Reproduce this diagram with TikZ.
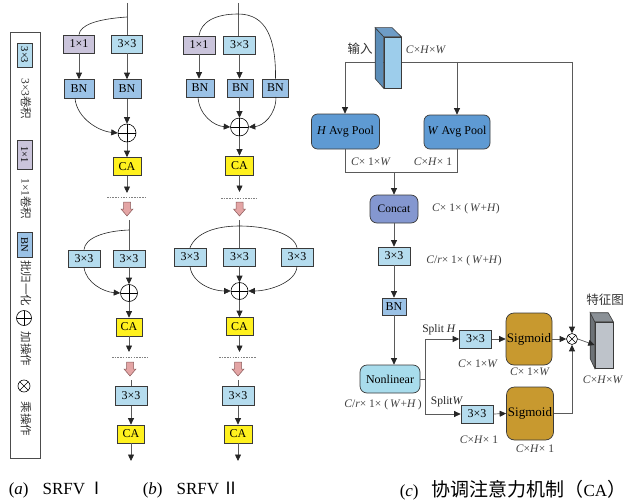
\documentclass[tikz,border=0pt]{standalone}
\usepackage{fontspec}
\setmainfont{Liberation Serif}
\newfontfamily\cjk{Noto Sans CJK SC}
\usetikzlibrary{arrows.meta,calc}
\definecolor{cthree}{HTML}{B5DCEE}
\definecolor{cone}{HTML}{CAC4DB}
\definecolor{cbn}{HTML}{9BC2E6}
\definecolor{cca}{HTML}{FFF11E}
\definecolor{pinkc}{HTML}{E4A5A5}
\definecolor{pinkd}{HTML}{8A5A5A}
\definecolor{cpool}{HTML}{5E9AD3}
\definecolor{cconcat}{HTML}{8497D0}
\definecolor{cnonl}{HTML}{A8DCEC}
\definecolor{csig}{HTML}{C8992F}
\definecolor{boxdraw}{HTML}{3A3A3A}
\definecolor{linegray}{HTML}{5A5A5A}
\definecolor{inF}{HTML}{9DCDEB}
\definecolor{inS}{HTML}{5B8DB8}
\definecolor{inT}{HTML}{6E9CC6}
\definecolor{outF}{HTML}{BEC3CA}
\definecolor{outS}{HTML}{6D7277}
\definecolor{outT}{HTML}{8A9096}
\newcommand\pinkarr[2]{\filldraw[fill=pinkc, draw=pinkd, line width=0.5pt] (#1-3.5,#2) -- ++(7,0) -- ++(0,7) -- ++(2.5,0) -- (#1,#2+14) -- ++(-6,-7) -- ++(2.5,0) -- cycle;}
\begin{document}
\begin{tikzpicture}[x=1pt,y=-1pt,
  bx/.style={draw=boxdraw, line width=0.7pt, inner sep=0pt, font=\fontsize{12}{14}\selectfont},
  sthree/.style={bx, fill=cthree},
  sone/.style={bx, fill=cone},
  sbn/.style={bx, fill=cbn},
  sca/.style={bx, fill=cca},
  rbx/.style={bx, rounded corners=6pt, font=\fontsize{12}{14}\selectfont},
  sz/.style 2 args={minimum width=#1pt, minimum height=#2pt},
  tip/.style={-{Triangle[length=6.5pt,width=6pt,color=black!85]}},
  arr/.style={tip, line width=0.7pt, draw=linegray},
  ln/.style={line width=0.7pt, draw=linegray},
  arcl/.style={line width=0.6pt, draw=black!85},
  arca/.style={arcl, tip},
  dots/.style={line width=0.6pt, draw=gray, dash pattern=on 1.5pt off 1.2pt},
  lbl/.style={font=\cjk\fontsize{12.5}{14}\selectfont, inner sep=0pt, text=black!80},
  leg/.style={font=\cjk\fontsize{11.5}{13}\selectfont, inner sep=0pt, text=black!80, rotate=-90},
  dim/.style={font=\fontsize{11.5}{13}\selectfont, inner sep=0pt, text=black!75},
  oplus/.style={circle, draw=black, line width=0.6pt, fill=white, minimum size=#1pt, inner sep=0pt,
    path picture={\draw[line width=0.6pt] (path picture bounding box.north) -- (path picture bounding box.south)
      (path picture bounding box.west) -- (path picture bounding box.east);}},
  otimes/.style={circle, draw=black, line width=0.6pt, fill=white, minimum size=#1pt, inner sep=0pt,
    path picture={\draw[line width=0.6pt] (path picture bounding box.north west) -- (path picture bounding box.south east)
      (path picture bounding box.south west) -- (path picture bounding box.north east);}},
]
\useasboundingbox (0,0) rectangle (626,503);

% ---------------- legend ----------------
\draw[line width=0.7pt, draw=black!70] (10,32) rectangle (40,458);
\node[sthree, sz={24}{15}, rotate=-90, font=\fontsize{10.5}{12}\selectfont] (l33) at (24.5,55) {3×3};
\node[leg] (t33) at (26,99) {\textrm{3×3}卷积};
\node[sone, sz={29}{15}, rotate=-90, font=\fontsize{10.5}{12}\selectfont] (l11) at (24.5,154.5) {1×1};
\node[leg] (t11) at (26,199) {\textrm{1×1}卷积};
\node[sbn, sz={25}{15}, rotate=-90, font=\fontsize{10.5}{12}\selectfont] (lbn) at (24.5,245) {BN};
\node[leg] (tbn) at (26,283) {批归一化};
\node[oplus=15] (lplus) at (24,318) {};
\node[leg] (tplus) at (26,349) {加操作};
\node[otimes=12] (ltimes) at (24,386) {};
\node[leg] (ttimes) at (26,419) {乘操作};

% ---------------- SRFV I ----------------
\coordinate (atop) at (127,3);
\coordinate (aarc) at (127,17);
\node[sone, sz={31}{18}] (a11) at (79,44) {1×1};
\node[sthree, sz={31}{18}] (a33) at (127,44) {3×3};
\node[sbn, sz={30}{19}] (abn1) at (79,89) {BN};
\node[sbn, sz={28}{19}] (abn2) at (127,89) {BN};
\node[oplus=18] (aplus) at (127,133) {};
\node[sca, sz={28}{18}] (aca) at (127,166.5) {CA};
\coordinate (aend1) at (127,193);
\draw[ln] (atop) -- (a33.north);
\draw[arcl] (aarc) .. controls (97,19) and (80,25) .. (a11.north);
\draw[arr] (a11.south) -- (abn1.north);
\draw[arr] (a33.south) -- (abn2.north);
\draw[arca] (75,98.5) .. controls (77,118) and (98,131) .. (aplus.west);
\draw[arr] (abn2.south) -- (aplus.north);
\draw[arr] (aplus.south) -- (aca.north);
\draw[arr] (aca.south) -- (aend1);
\draw[dots] (107,197) -- (145,197);
\pinkarr{127}{202}
% block 2
\coordinate (atop2) at (129,220);
\coordinate (aarc2) at (129,230);
\node[sthree, sz={32}{17}] (a2l) at (84,258.5) {3×3};
\node[sthree, sz={32}{17}] (a2r) at (129,258.5) {3×3};
\node[oplus=17] (aplus2) at (129,293) {};
\node[sca, sz={26}{18}] (aca2) at (129,327) {CA};
\coordinate (aend2) at (129,352);
\draw[ln] (atop2) -- (a2r.north);
\draw[arcl] (aarc2) .. controls (104,231) and (85,238) .. (a2l.north);
\draw[arca] (a2l.south) .. controls (86,283) and (104,292) .. (aplus2.west);
\draw[arr] (a2r.south) -- (aplus2.north);
\draw[arr] (aplus2.south) -- (aca2.north);
\draw[arr] (aca2.south) -- (aend2);
\draw[dots] (112,357) -- (148,357);
\pinkarr{130}{362}
% block 3
\coordinate (atop3) at (131,380);
\node[sthree, sz={32}{19}] (a3) at (131,396) {3×3};
\node[sca, sz={27}{18}] (aca3) at (131,434) {CA};
\coordinate (aend3) at (131,461);
\draw[ln] (atop3) -- (a3.north);
\draw[arr] (a3.south) -- (aca3.north);
\draw[arr] (aca3.south) -- (aend3);

% ---------------- SRFV II ----------------
\coordinate (btop) at (238,3);
\coordinate (barc) at (238,14);
\node[sone, sz={32}{18}] (b11) at (199,45) {1×1};
\node[sthree, sz={32}{18}] (b33) at (239.5,45) {3×3};
\node[sbn, sz={28}{18}] (bbn1) at (200,88) {BN};
\node[sbn, sz={26}{18}] (bbn2) at (240.5,88) {BN};
\node[sbn, sz={26}{18}] (bbn3) at (275.5,88) {BN};
\node[oplus=18] (bplus) at (239.5,127) {};
\node[sca, sz={28}{19}] (bca) at (239.5,165.5) {CA};
\coordinate (bend1) at (239.5,192);
\draw[ln] (btop) -- (btop |- b33.north);
\draw[arcl] (b11.north) .. controls (201,22) and (215,14) .. (barc) .. controls (266,14) and (276,38) .. (bbn3.north);
\draw[arr] (b11.south) -- (b11.south |- bbn1.north);
\draw[arr] (b33.south) -- (b33.south |- bbn2.north);
\draw[arr] (bbn2.south -| bplus.north) -- (bplus.north);
\draw[arca] (198,97) .. controls (199,115) and (214,126) .. (bplus.west);
\draw[arca] (276,97) .. controls (276,115) and (263,126) .. (bplus.east);
\draw[arr] (bplus.south) -- (bca.north);
\draw[arr] (bca.south) -- (bend1);
\draw[dots] (221,198) -- (257,198);
\pinkarr{239.5}{202}
% block 2
\coordinate (btop2) at (239.5,220);
\coordinate (barc2) at (239.5,226);
\node[sthree, sz={32}{18}] (b2l) at (190,257) {3×3};
\node[sthree, sz={32}{18}] (b2c) at (239.5,257) {3×3};
\node[sthree, sz={32}{18}] (b2r) at (297,257) {3×3};
\node[oplus=17] (bplus2) at (239.5,291) {};
\node[sca, sz={27}{18}] (bca2) at (239.5,326.5) {CA};
\coordinate (bend2) at (239.5,352);
\draw[ln] (btop2) -- (b2c.north);
\draw[arcl] (b2l.north) .. controls (196,233) and (215,226) .. (barc2) .. controls (265,226) and (294,233) .. (b2r.north);
\draw[arca] (b2l.south) .. controls (192,283) and (212,291) .. (bplus2.west);
\draw[arca] (b2r.south) .. controls (296,283) and (268,291) .. (bplus2.east);
\draw[arr] (b2c.south) -- (bplus2.north);
\draw[arr] (bplus2.south) -- (bca2.north);
\draw[arr] (bca2.south) -- (bend2);
\draw[dots] (219,357) -- (256,357);
\pinkarr{238}{362}
% block 3
\coordinate (btop3) at (238,380);
\node[sthree, sz={32}{19}] (b3) at (238,396) {3×3};
\node[sca, sz={28}{18}] (bca3) at (238,434) {CA};
\coordinate (bend3) at (238,461);
\draw[ln] (btop3) -- (b3.north);
\draw[arr] (b3.south) -- (bca3.north);
\draw[arr] (bca3.south) -- (bend3);

% ---------------- CA ----------------
\coordinate (hl) at (345,62);
\coordinate (hr) at (572,62);
\coordinate (hw) at (457,62);
\node[rbx, fill=cpool, sz={68}{35}] (hpool) at (345.5,131.5) {\textit{H} Avg Pool};
\node[rbx, fill=cpool, sz={66}{34}] (wpool) at (457,132) {\textit{W} Avg Pool};
\node[rbx, fill=cconcat, sz={48}{28}, rounded corners=7pt, font=\fontsize{11.5}{13}\selectfont] (concat) at (394,209) {Concat};
\node[sthree, sz={32}{18}] (c33) at (394,256) {3×3};
\node[sbn, sz={24}{17}] (cbn) at (394,306.5) {BN};
\node[rbx, fill=cnonl, sz={60}{28}, rounded corners=7pt] (nonl) at (390,379) {Nonlinear};
\node[sthree, sz={32}{18}] (t33) at (475.5,339) {3×3};
\node[sthree, sz={32}{18}] (u33) at (477,414) {3×3};
\node[rbx, fill=csig, sz={46}{52}, rounded corners=8pt, font=\fontsize{13}{15}\selectfont] (sigt) at (529,339) {Sigmoid};
\node[rbx, fill=csig, sz={47}{53}, rounded corners=8pt, font=\fontsize{13}{15}\selectfont] (sigb) at (530,413.5) {Sigmoid};
\node[otimes=11] (mul) at (572,339) {};
% lines
\draw[ln] (hl) -- (hr);
\draw[arr] (hl) -- (hpool.north -| hl);
\draw[arr] (hw) -- (wpool.north -| hw);
\draw[arr] (hr) -- (mul.north);
% input cuboid
\node[draw=boxdraw, line width=0.6pt, fill=inF, minimum width=17pt, minimum height=51pt, inner sep=0pt] (inc) at (392.5,62.5) {};
\filldraw[fill=inS, draw=boxdraw, line width=0.6pt] (inc.north west) -- ++(-8.5,-9) -- ++(0,51) -- (inc.south west) -- cycle;
\filldraw[fill=inT, draw=boxdraw, line width=0.6pt] (inc.north west) -- ++(-8.5,-9) -- ++(17,0) -- (inc.north east) -- cycle;
\node[lbl] (tin) at (360,49) {输入};
\node[dim] (din) at (426,50) {\textit{C}×\textit{H}×\textit{W}};
% pooling merge
\coordinate (pm) at (394,172);
\draw[ln] (hpool.south -| hl) -- (hl |- pm) -- (hw |- pm) -- (wpool.south -| hw);
\draw[arr] (pm) -- (concat.north);
\node[dim] (dh) at (371,161.5) {\textit{C}× 1×\textit{W}};
\node[dim] (dw) at (433,161.5) {\textit{C}×\textit{H}× 1};
\draw[arr] (concat.south) -- (c33.north);
\node[dim] (dc) at (466,208.5) {\textit{C}× 1× (\,\textit{W}+\textit{H})};
\draw[arr] (c33.south) -- (cbn.north);
\node[dim] (dr) at (464,261) {\textit{C}/\textit{r}× 1× (\,\textit{W}+\textit{H})};
\draw[arr] (cbn.south) -- (cbn.south |- nonl.north);
\node[dim] (dn) at (383,405) {\textit{C}/\textit{r}× 1× (\,\textit{W}+\textit{H}\,)};
% split
\coordinate (sp) at (425,379);
\draw[ln] (nonl.east) -- (sp);
\draw[ln] (sp |- t33.west) -- (sp |- u33.west);
\draw[arr] (sp |- t33.west) -- (t33.west);
\draw[arr] (sp |- u33.west) -- (u33.west);
\node[dim, text=black!85] (lsh) at (439,329.5) {Split \textit{H}};
\node[dim, text=black!85] (lsw) at (447,401.5) {Split\textit{W}};
\draw[arr] (t33.east) -- (sigt.west);
\draw[arr] (u33.east) -- (sigb.west);
\draw[arr] (sigt.east) -- (mul.west);
\draw[arr] (sigb.east) -- (mul |- sigb.east) -- (mul.south);
\node[dim] (dt1) at (478,364) {\textit{C}× 1×\textit{W}};
\node[dim] (dt2) at (530,372) {\textit{C}× 1×\textit{W}};
\node[dim] (du1) at (479,440) {\textit{C}×\textit{H}× 1};
\node[dim] (du2) at (535,449) {\textit{C}×\textit{H}× 1};
% output cuboid
\node[draw=boxdraw, line width=0.6pt, fill=outF, minimum width=18pt, minimum height=46pt, inner sep=0pt] (outc) at (604,345) {};
\filldraw[fill=outS, draw=boxdraw, line width=0.6pt] (outc.north west) -- ++(-4.5,-9) -- ++(0,46) -- (outc.south west) -- cycle;
\filldraw[fill=outT, draw=boxdraw, line width=0.6pt] (outc.north west) -- ++(-4.5,-9) -- ++(18,0) -- (outc.north east) -- cycle;
\draw[arr] (mul.east) -- (outc.west);
\node[lbl] (tout) at (605,300) {特征图};
\node[dim] (dout) at (603,380) {\textit{C}×\textit{H}×\textit{W}};

% ---------------- captions ----------------
\node[inner sep=0pt, font=\fontsize{17}{19}\selectfont] (capa) at (57,490) {(\textit{a})\hspace{14pt}SRFV\hspace{3pt}{\cjk Ⅰ}};
\node[inner sep=0pt, font=\fontsize{17}{19}\selectfont] (capb) at (191,490) {(\textit{b})\hspace{14pt}SRFV\hspace{3pt}{\cjk Ⅱ}};
\node[inner sep=0pt, font=\fontsize{17}{19}\selectfont] (capc) at (513,490) {(\textit{c})\hspace{13pt}{\cjk\fontsize{19}{21}\selectfont 协调注意力机制（}CA{\cjk\fontsize{19}{21}\selectfont ）}};
\end{tikzpicture}
\end{document}
